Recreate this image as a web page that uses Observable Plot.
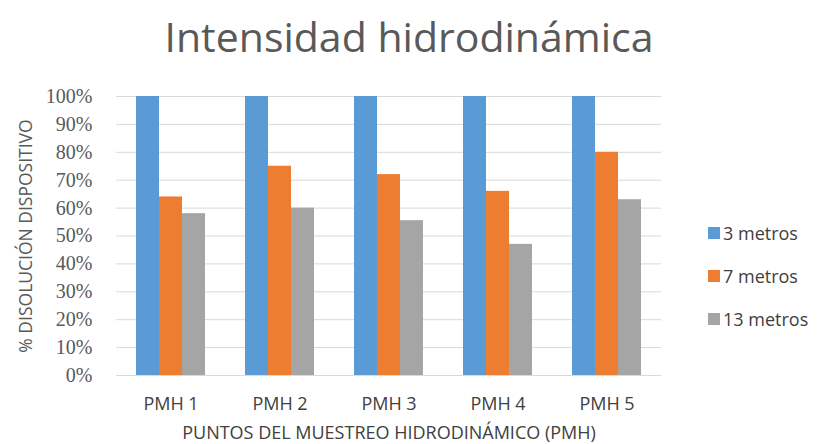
<!DOCTYPE html>
<html>
<head>
<meta charset="utf-8">
<script src="https://cdn.jsdelivr.net/npm/d3@7"></script>
<script src="https://cdn.jsdelivr.net/npm/@observablehq/plot@0.6"></script>
<style>
  html, body { margin: 0; padding: 0; background: #fff; }
  #wrap { position: relative; width: 818px; height: 444px; overflow: hidden; font-family: "Open Sans", sans-serif; }
  #title { position: absolute; left: 0; width: 818px; top: 10px; text-align: center; font-size: 41px; color: #595959; line-height: 52px; }
  #chart { position: absolute; left: 0; top: 80px; }
  #legend { position: absolute; left: 708px; top: 211px; }
  .item { display: flex; align-items: center; height: 43px; font-size: 18px; color: #404040; }
  .sw { width: 12px; height: 12px; margin-right: 3px; }
</style>
</head>
<body>
<div id="wrap">
  <div id="title">Intensidad hidrodinámica</div>
  <div id="chart"></div>
  <div id="legend"></div>
</div>
<script>
const categories = ["PMH 1", "PMH 2", "PMH 3", "PMH 4", "PMH 5"];
const series = ["3 metros", "7 metros", "13 metros"];
const values3 = [100, 100, 100, 100, 100];
const values7 = [64, 75, 72, 66, 80];
const values13 = [58, 60, 55.5, 47, 63];
const colors = ["#5B9BD5", "#ED7D31", "#A5A5A5"];
const yTicks = [0, 10, 20, 30, 40, 50, 60, 70, 80, 90, 100];
const xTitle = "PUNTOS DEL MUESTREO HIDRODINÁMICO (PMH)";
const yTitle = "% DISOLUCIÓN DISPOSITIVO";

const seriesValues = [values3, values7, values13];
const rows = [];
categories.forEach((c, i) => {
  series.forEach((s, j) => rows.push({pmh: c, series: s, value: seriesValues[j][i]}));
});

const plot = Plot.plot({
  width: 818,
  height: 364,
  marginTop: 16,
  marginBottom: 69,
  marginLeft: 114,
  marginRight: 155,
  style: {background: "#fff", color: "#595959"},
  fx: {domain: categories, padding: 0},
  x: {domain: series, paddingInner: 0, paddingOuter: 0.7875, axis: null},
  y: {domain: [0, 100]},
  color: {domain: series, range: colors},
  marks: [
    Plot.gridY(yTicks, {stroke: "#d9d9d9", strokeOpacity: 1, strokeWidth: 1}),
    Plot.barY(rows, {fx: "pmh", x: "series", y: "value", fill: "series"}),
    Plot.axisY(yTicks, {tickSize: 0, tickPadding: 24, tickFormat: d => d + "%", fontFamily: "Liberation Serif", fontSize: 20, label: null, fill: "#595959"}),
    Plot.axisY([], {label: yTitle, labelAnchor: "center", labelArrow: "none", labelOffset: 97, fontFamily: "Open Sans", fontSize: 17.5, tickSize: 0, fill: "#595959"}),
    Plot.axisFx({anchor: "bottom", tickSize: 0, tickPadding: 22, fontSize: 18, fontFamily: "Open Sans", fill: "#404040", label: xTitle, labelAnchor: "center", labelArrow: "none", labelOffset: 63})
  ]
});
document.getElementById("chart").appendChild(plot);

const color = plot.scale("color");
const legend = document.getElementById("legend");
series.forEach((s, i) => {
  const item = document.createElement("div");
  item.className = "item";
  const sw = document.createElement("span");
  sw.className = "sw";
  sw.style.background = color.range[i];
  const t = document.createElement("span");
  t.textContent = s;
  item.appendChild(sw);
  item.appendChild(t);
  legend.appendChild(item);
});
</script>
</body>
</html>
